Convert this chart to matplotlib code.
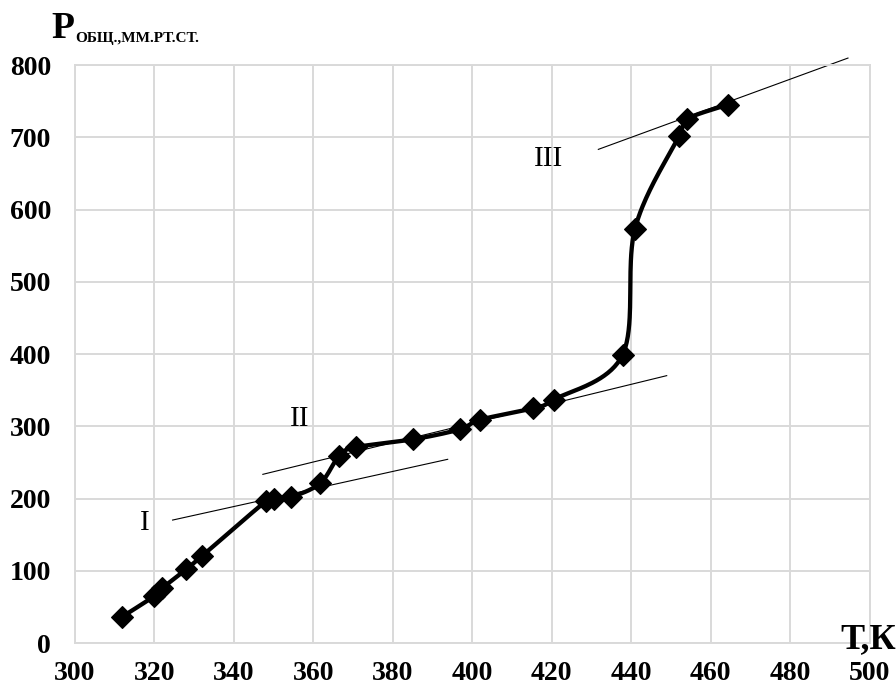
import numpy as np
import matplotlib
matplotlib.use("Agg")
import matplotlib.pyplot as plt

# Total pressure vs temperature
temp_k = [311.8, 320.0, 322.0, 328.0, 331.9, 348.0, 350.1, 354.3, 361.7, 366.5,
          370.7, 385.2, 397.0, 401.9, 415.2, 420.6, 437.8, 440.9, 452.0, 453.9, 464.2]
pressure = [36, 65, 76, 102, 120, 196, 200, 202, 221, 259,
            271, 282, 296, 309, 325, 337, 399, 573, 702, 725, 745]

# Tangent lines for the three regions (start/end points) and their labels
tangent_t = {"I": [324.6, 393.8], "II": [347.3, 448.9], "III": [431.7, 494.5]}
tangent_p = {"I": [170.2, 254.3], "II": [233.5, 370.1], "III": [683.3, 809.7]}
label_t = {"I": 317.7, "II": 356.6, "III": 419.1}
label_p = {"I": 166, "II": 310, "III": 670}

x_ticks = list(range(300, 501, 20))
y_ticks = list(range(0, 801, 100))

serif = ["Liberation Serif", "DejaVu Serif"]
plt.rcParams["font.family"] = serif

fig = plt.figure(figsize=(8.96, 6.87), dpi=100)
ax = fig.add_axes([0.0835, 0.064, 0.8873, 0.8413])
ax.set_xlim(300, 500)
ax.set_ylim(0, 800)
ax.set_xticks(x_ticks)
ax.set_yticks(y_ticks)
ax.grid(True, color="#d9d9d9", lw=1.4)
ax.set_axisbelow(True)
for s in ax.spines.values():
    s.set_color("#d9d9d9")
    s.set_linewidth(1.4)
ax.tick_params(length=0, labelsize=20)
ax.tick_params(axis="y", pad=17)
ax.tick_params(axis="x", pad=13)
for lab in ax.get_xticklabels() + ax.get_yticklabels():
    lab.set_fontweight("bold")


def smooth_curve(ax, xs, ys, n=40):
    """Cubic Bezier smoothing through the points, computed in display space."""
    pts = ax.transData.transform(np.column_stack([xs, ys]))
    ext = np.vstack([pts[0], pts, pts[-1]])
    t = np.linspace(0, 1, n)[:, None]
    segs = []
    for i in range(len(pts) - 1):
        p0, p1, p2, p3 = ext[i], ext[i + 1], ext[i + 2], ext[i + 3]
        c1 = p1 + (p2 - p0) / 6.0
        c2 = p2 - (p3 - p1) / 6.0
        seg = ((1 - t) ** 3) * p1 + 3 * ((1 - t) ** 2) * t * c1 \
            + 3 * (1 - t) * (t ** 2) * c2 + (t ** 3) * p2
        segs.append(seg if i == 0 else seg[1:])
    return ax.transData.inverted().transform(np.vstack(segs))


curve = smooth_curve(ax, temp_k, pressure)
ax.plot(curve[:, 0], curve[:, 1], color="black", lw=3.1, solid_capstyle="round",
        zorder=3)
ax.plot(temp_k, pressure, linestyle="none", marker="D", markersize=11,
        color="black", markeredgewidth=0.8, zorder=4)

for key in ["I", "II", "III"]:
    ax.plot(tangent_t[key], tangent_p[key], color="black", lw=0.8, zorder=2,
            clip_on=False)
    ax.text(label_t[key], label_p[key], key, fontsize=21, ha="center",
            va="center", color="black")

# Axis titles
fig.text(51 / 896, 1 - 38 / 687, "P", fontsize=27, fontweight="bold",
         ha="left", va="baseline")
fig.text(75 / 896, 1 - 42 / 687, "ОБЩ.,ММ.РТ.СТ.", fontsize=11,
         fontweight="bold", ha="left", va="baseline")
fig.text(1.0, 1 - 648 / 687, "Т,К", fontsize=26, fontweight="bold",
         ha="right", va="baseline")

fig.savefig("out.png", dpi=100)
